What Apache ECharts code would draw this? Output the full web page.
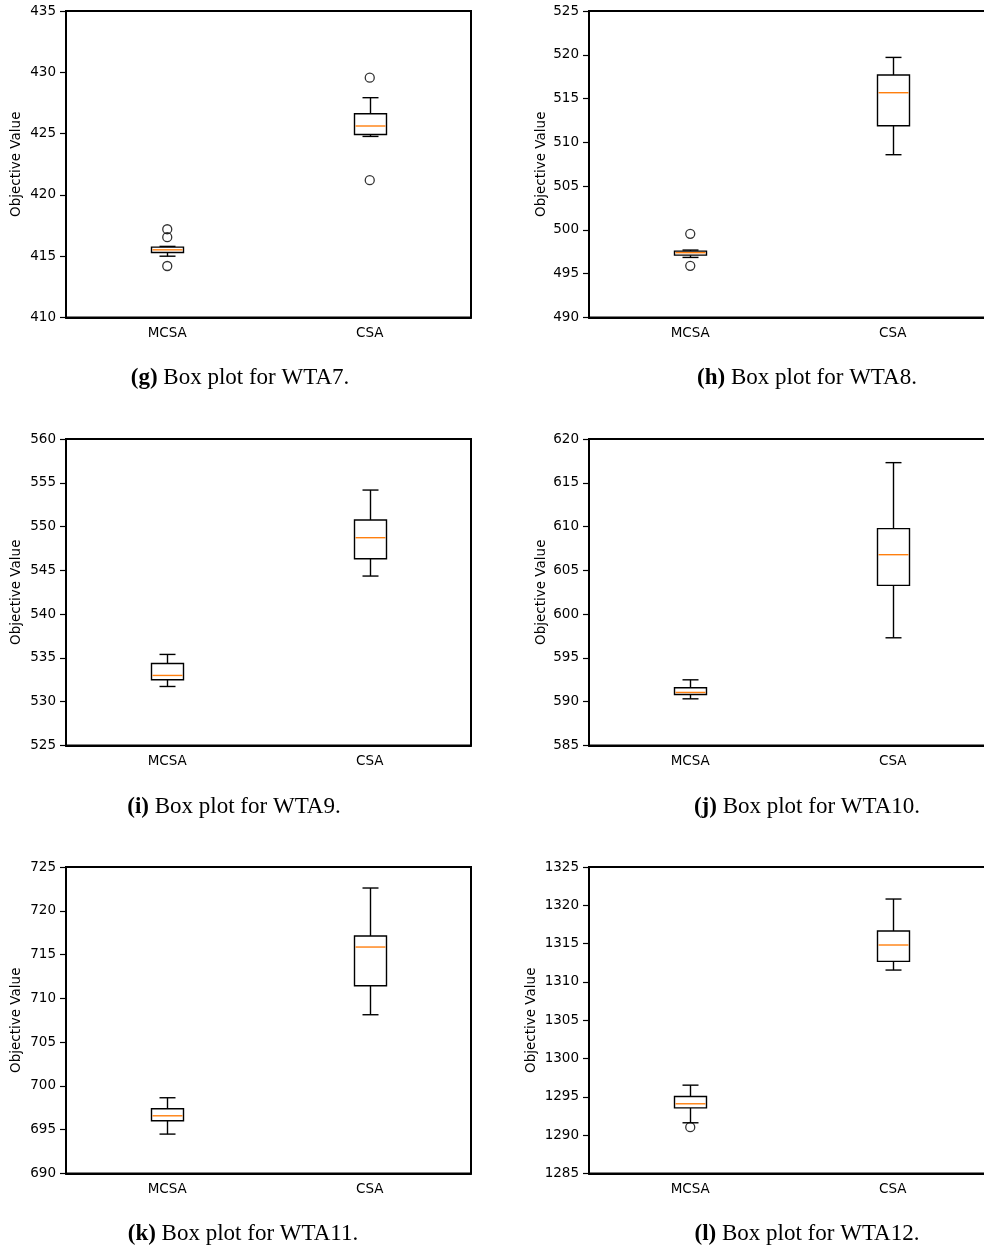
<!DOCTYPE html>
<html><head><meta charset="utf-8">
<script src="https://cdn.jsdelivr.net/npm/echarts@6/dist/echarts.min.js"></script>
<style>html,body{margin:0;padding:0;background:#fff;overflow:hidden}#c{width:1010px;height:1247px}</style>
</head><body><div id="c"></div>
<script>
const categories = ['MCSA', 'CSA'];
// [min whisker, Q1, median, Q3, max whisker]
const wta7Box  = [[415.0, 415.30, 415.52, 415.74, 415.80], [424.77, 424.93, 425.62, 426.62, 427.93]];
const wta7Out  = [[0, 417.2], [0, 416.55], [0, 414.2], [1, 429.56], [1, 421.2]];
const wta8Box  = [[496.86, 497.12, 497.40, 497.58, 497.70], [508.59, 511.90, 515.67, 517.69, 519.70]];
const wta8Out  = [[0, 499.56], [0, 495.9]];
const wta9Box  = [[531.74, 532.50, 533.00, 534.37, 535.40], [544.35, 546.33, 548.73, 550.75, 554.17]];
const wta9Out  = [];
const wta10Box = [[590.33, 590.83, 591.06, 591.59, 592.50], [597.30, 603.28, 606.79, 609.76, 617.30]];
const wta10Out = [];
const wta11Box = [[694.50, 696.02, 696.59, 697.39, 698.65], [708.13, 711.44, 715.86, 717.12, 722.60]];
const wta11Out = [];
const wta12Box = [[1291.62, 1293.57, 1294.10, 1295.05, 1296.53], [1311.55, 1312.68, 1314.82, 1316.64, 1320.82]];
const wta12Out = [[0, 1291.05]];
const yRanges = [[410, 435], [490, 525], [525, 560], [585, 620], [690, 725], [1285, 1325]];
const captions = [['(g)', ' Box plot for WTA7.'], ['(h)', ' Box plot for WTA8.'], ['(i)', ' Box plot for WTA9.'],
                  ['(j)', ' Box plot for WTA10.'], ['(k)', ' Box plot for WTA11.'], ['(l)', ' Box plot for WTA12.']];
const yName = 'Objective Value';

const boxes = [wta7Box, wta8Box, wta9Box, wta10Box, wta11Box, wta12Box];
const outs = [wta7Out, wta8Out, wta9Out, wta10Out, wta11Out, wta12Out];

const layout = [
  {left: 66, top: 11, cx: 240, cy: 378, gap: 43},
  {left: 589, top: 11, cx: 807, cy: 378, gap: 41},
  {left: 66, top: 439, cx: 234, cy: 807, gap: 43},
  {left: 589, top: 439, cx: 807, cy: 807, gap: 41},
  {left: 66, top: 867, cx: 243, cy: 1234, gap: 43},
  {left: 589, top: 867, cx: 807, cy: 1234, gap: 51}
];
const W = 405, H = 306.5;
const font = 'DejaVu Sans';

const grid = [], xAxis = [], yAxis = [], series = [], graphic = [];
layout.forEach((L, i) => {
  grid.push({left: L.left, top: L.top, width: W, height: H, show: true, borderColor: '#000', borderWidth: 2, backgroundColor: 'transparent'});
  xAxis.push({type: 'category', gridIndex: i, data: categories, boundaryGap: true,
    axisLine: {lineStyle: {color: '#000', width: 2}},
    axisTick: {alignWithLabel: true, length: 6, lineStyle: {color: '#000', width: 1.2}},
    axisLabel: {color: '#000', fontFamily: font, fontSize: 13.5, margin: 9},
    splitLine: {show: false}});
  yAxis.push({type: 'value', gridIndex: i, min: yRanges[i][0], max: yRanges[i][1], interval: 5,
    name: yName, nameLocation: 'middle', nameGap: L.gap, nameRotate: 90,
    nameTextStyle: {color: '#000', fontFamily: font, fontSize: 13.5},
    axisLine: {show: true, lineStyle: {color: '#000', width: 2}},
    axisTick: {show: true, length: 6, lineStyle: {color: '#000', width: 1.2}},
    axisLabel: {color: '#000', fontFamily: font, fontSize: 13.5, margin: 10, formatter: v => String(v)},
    splitLine: {show: false}});
  series.push({type: 'custom', xAxisIndex: i, yAxisIndex: i,
    data: boxes[i].map((b, k) => [k].concat(b)),
    encode: {x: 0, y: [1, 2, 3, 4, 5]},
    renderItem: function (params, api) {
      const x = api.value(0);
      const pMin = api.coord([x, api.value(1)]);
      const pQ1 = api.coord([x, api.value(2)]);
      const pMed = api.coord([x, api.value(3)]);
      const pQ3 = api.coord([x, api.value(4)]);
      const pMax = api.coord([x, api.value(5)]);
      const cx = Math.round(pMin[0]) + 0.5;
      const hw = 16, cw = 8;
      const ls = {stroke: '#000', lineWidth: 1.4, fill: null};
      return {type: 'group', children: [
        {type: 'line', shape: {x1: cx, y1: pMax[1], x2: cx, y2: pQ3[1]}, style: ls},
        {type: 'line', shape: {x1: cx, y1: pQ1[1], x2: cx, y2: pMin[1]}, style: ls},
        {type: 'line', shape: {x1: cx - cw, y1: pMax[1], x2: cx + cw, y2: pMax[1]}, style: ls},
        {type: 'line', shape: {x1: cx - cw, y1: pMin[1], x2: cx + cw, y2: pMin[1]}, style: ls},
        {type: 'rect', shape: {x: cx - hw, y: pQ3[1], width: 2 * hw, height: pQ1[1] - pQ3[1]}, style: {stroke: '#000', lineWidth: 1.4, fill: '#fff'}},
        {type: 'line', shape: {x1: cx - hw + 1, y1: pMed[1], x2: cx + hw - 1, y2: pMed[1]}, style: {stroke: '#ff7f0e', lineWidth: 1.4}}
      ]};
    }
  });
  series.push({type: 'scatter', xAxisIndex: i, yAxisIndex: i, data: outs[i], symbol: 'circle', symbolSize: 9,
    itemStyle: {color: 'transparent', borderColor: '#000', borderWidth: 1.3}, z: 5});
  graphic.push({type: 'text', x: L.cx, y: L.cy, style: {
    text: '{b|' + captions[i][0] + '}{n|' + captions[i][1] + '}',
    align: 'center', verticalAlign: 'middle',
    rich: {b: {fontFamily: 'Liberation Serif', fontSize: 23, fontWeight: 'bold', fill: '#000'},
           n: {fontFamily: 'Liberation Serif', fontSize: 23, fill: '#000'}}
  }});
});

const chart = echarts.init(document.getElementById('c'), null, {renderer: 'canvas'});
chart.setOption({animation: false, backgroundColor: '#fff', grid, xAxis, yAxis, series, graphic});
</script></body></html>
